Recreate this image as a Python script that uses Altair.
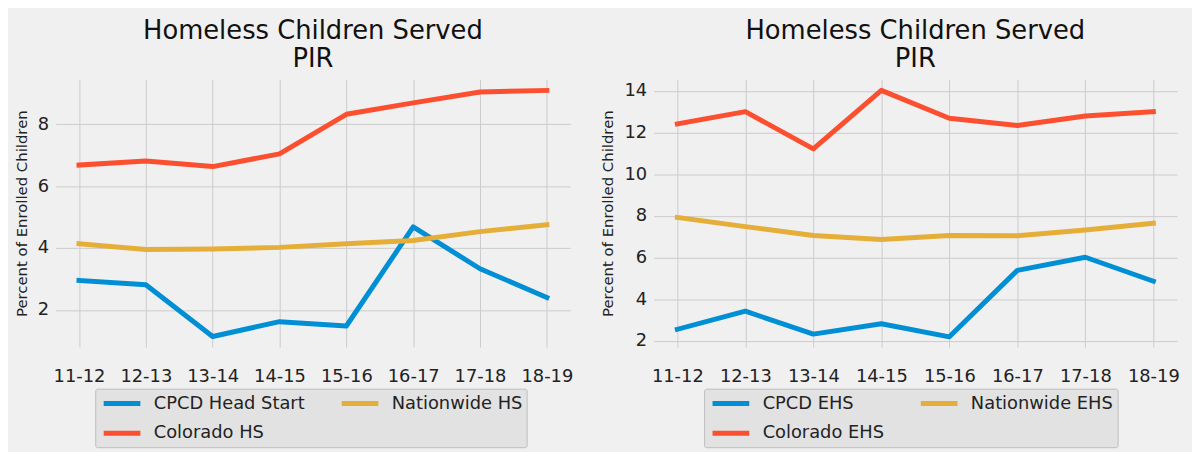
import altair as alt
import pandas as pd

years = ["11-12", "12-13", "13-14", "14-15", "15-16", "16-17", "17-18", "18-19"]

# Head Start panel
hs_names = ["CPCD Head Start", "Colorado HS", "Nationwide HS"]
cpcd_hs = [2.95, 2.81, 1.14, 1.62, 1.48, 4.68, 3.33, 2.40]
colorado_hs = [6.68, 6.81, 6.63, 7.04, 8.32, 8.69, 9.04, 9.09]
nation_hs = [4.14, 3.95, 3.97, 4.02, 4.14, 4.24, 4.53, 4.75]

# Early Head Start panel
ehs_names = ["CPCD EHS", "Colorado EHS", "Nationwide EHS"]
cpcd_ehs = [2.55, 3.42, 2.32, 2.82, 2.19, 5.38, 6.01, 4.86]
colorado_ehs = [12.41, 13.00, 11.21, 14.02, 12.68, 12.33, 12.79, 13.00]
nation_ehs = [7.92, 7.48, 7.05, 6.86, 7.05, 7.04, 7.32, 7.64]

hs_ticks = [2, 4, 6, 8]
ehs_ticks = [2, 4, 6, 8, 10, 12, 14]

title_lines = ["Homeless Children Served", "PIR"]
y_title = "Percent of Enrolled Children"
colors = ["#008fd5", "#fc4f30", "#e5ae38"]
FONT = "DejaVu Sans"


def long_table(names, series):
    rows = []
    for name, vals in zip(names, series):
        for yr, v in zip(years, vals):
            rows.append({"Year": yr, "Value": v, "Series": name})
    return pd.DataFrame(rows)


def panel(names, series, ydom, yticks, lx, ly, w):
    df = long_table(names, series)
    return alt.Chart(df).mark_line(
        strokeWidth=5, strokeCap="square", strokeJoin="round"
    ).encode(
        x=alt.X("Year:N", sort=years,
                scale=alt.Scale(type="point", padding=0.35),
                axis=alt.Axis(title=None, labelAngle=0, labelPadding=21)),
        y=alt.Y("Value:Q",
                scale=alt.Scale(domain=ydom, nice=False, zero=False),
                axis=alt.Axis(values=yticks, title=y_title, labelPadding=7,
                              titlePadding=8)),
        color=alt.Color("Series:N", sort=names,
                        scale=alt.Scale(domain=names, range=colors),
                        legend=alt.Legend(
                            title=None, orient="none", legendX=lx, legendY=ly,
                            columns=2, symbolType="M-2.2,0L2.2,0", symbolSize=283,
                            symbolStrokeWidth=5, symbolOffset=12,
                            labelFontSize=18, labelFont=FONT,
                            labelColor="#222222", labelOffset=21, labelLimit=0,
                            columnPadding=26, rowPadding=9, padding=4,
                            fillColor="#e2e2e2", strokeColor="#bdbdbd",
                            cornerRadius=2)),
    ).properties(
        width=w, height=270,
        title=alt.Title(title_lines, fontSize=26, font=FONT, fontWeight="normal",
                        color="#111111", anchor="middle", lineHeight=29, offset=7),
    )


left = panel(hs_names, [cpcd_hs, colorado_hs, nation_hs], [0.8, 9.45], hs_ticks, 40, 312, 519)
right = panel(ehs_names, [cpcd_ehs, colorado_ehs, nation_ehs], [1.7, 14.55], ehs_ticks, 51, 312, 528)

chart = alt.hconcat(left, right, spacing=28).resolve_scale(
    color="independent", y="independent"
).resolve_legend(color="independent").properties(
    background="#f0f0f0",
    padding={"left": 6, "top": 8, "right": 12, "bottom": 10},
).configure_view(stroke=None).configure_axis(
    grid=True, gridColor="#cbcbcb", gridWidth=1, domain=False, ticks=False,
    labelFont=FONT, labelFontSize=18, labelColor="#222222",
    titleFont=FONT, titleFontSize=15, titleFontWeight="normal", titleColor="#222222",
)

chart.save("out.html", embed_options={"renderer": "svg", "actions": False})
